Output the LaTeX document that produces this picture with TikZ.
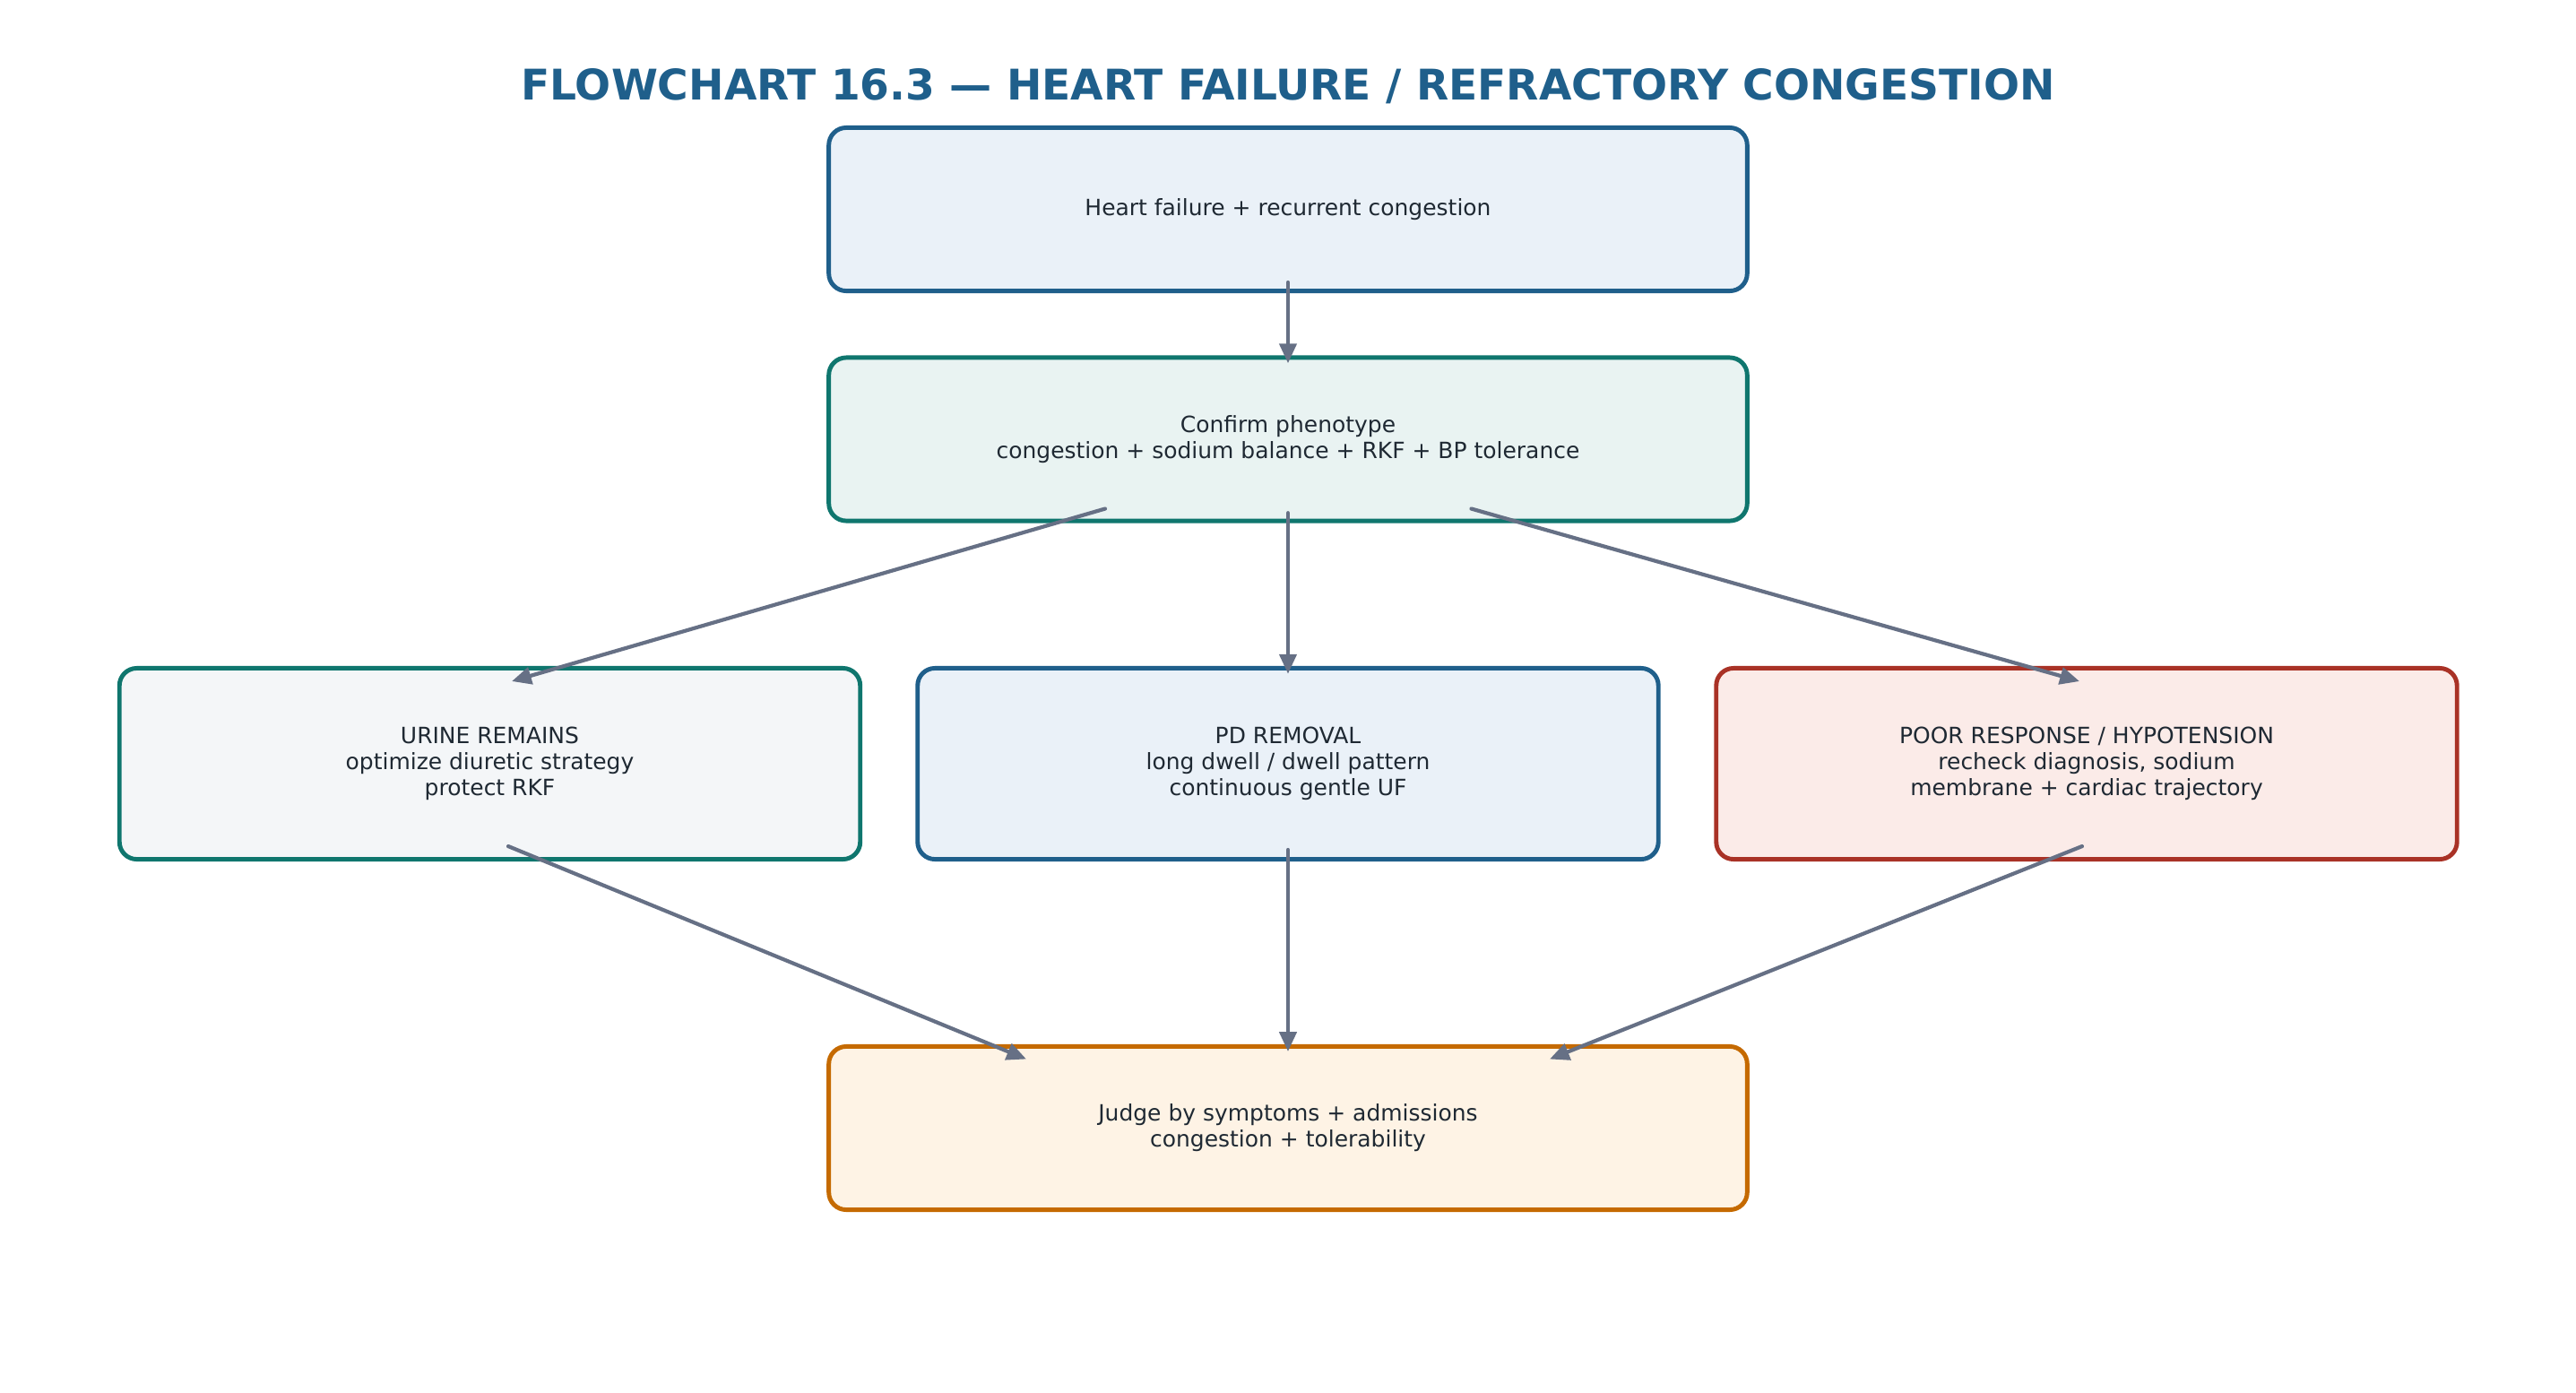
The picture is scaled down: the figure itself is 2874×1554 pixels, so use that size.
\documentclass[tikz,border=0pt]{standalone}
\usepackage{fontspec}
\setmainfont{DejaVu Sans}
\usetikzlibrary{arrows.meta,calc}
\definecolor{hfblue}{HTML}{1F5F8B}
\definecolor{hfteal}{HTML}{0F766E}
\definecolor{hfred}{HTML}{A93226}
\definecolor{hforange}{HTML}{C56A00}
\definecolor{hfgray}{HTML}{667085}
\definecolor{hfink}{HTML}{1F2933}
\definecolor{fillblue}{HTML}{EAF1F8}
\definecolor{fillteal}{HTML}{E9F3F2}
\definecolor{fillgray}{HTML}{F4F6F8}
\definecolor{fillred}{HTML}{FBEBE8}
\definecolor{fillorange}{HTML}{FEF3E5}
\begin{document}
\begin{tikzpicture}[x=0.01cm, y=0.01cm,
    box/.style={draw, line width=1.4pt, rounded corners=5.5pt, align=center, text=hfink,
        font=\fontsize{7.1}{8.2}\selectfont, inner sep=0pt},
    widebox/.style={box, minimum width=10.24cm, minimum height=1.82cm},
    branchbox/.style={box, minimum width=8.26cm, minimum height=2.13cm},
    flow/.style={draw=hfgray, line width=1.2pt, line cap=round, -{Triangle[length=6.2pt, width=5.4pt]}}]
    \useasboundingbox (0,0) rectangle (2874,-1554);

    \node[anchor=base, text=hfblue, font=\fontsize{13.4}{15}\selectfont\bfseries] (title) at (1437,-111)
        {FLOWCHART 16.3 — HEART FAILURE / REFRACTORY CONGESTION};

    \node[widebox, draw=hfblue, fill=fillblue] (hf) at (1437,-233.5) {Heart failure + recurrent congestion};
    \node[widebox, draw=hfteal, fill=fillteal] (pheno) at (1437,-490)
        {Confirm phenotype\\congestion + sodium balance + RKF + BP tolerance};

    \node[branchbox, draw=hfteal, fill=fillgray] (urine) at (546.5,-852)
        {URINE REMAINS\\optimize diuretic strategy\\protect RKF};
    \node[branchbox, draw=hfblue, fill=fillblue] (pd) at (1437,-852)
        {PD REMOVAL\\long dwell / dwell pattern\\continuous gentle UF};
    \node[branchbox, draw=hfred, fill=fillred] (poor) at (2328,-852)
        {POOR RESPONSE / HYPOTENSION\\recheck diagnosis, sodium\\membrane + cardiac trajectory};

    \node[widebox, draw=hforange, fill=fillorange] (judge) at (1437,-1258.5)
        {Judge by symptoms + admissions\\congestion + tolerability};

    \draw[flow] ($(hf.south)+(0,12)$) -- ($(pheno.north)+(0,-8.7)$);
    \draw[flow] ($(pheno.south)+(-204,16)$) -- ($(urine.north)+(24.5,-17)$);
    \draw[flow] ($(pheno.south)+(0,11.3)$) -- ($(pd.north)+(0,-8.7)$);
    \draw[flow] ($(pheno.south)+(204.5,16)$) -- ($(poor.north)+(-8,-17)$);
    \draw[flow] ($(urine.south)+(20.5,17)$) -- ($(judge.north)+(-292,-16.5)$);
    \draw[flow] ($(pd.south)+(0,13)$) -- ($(judge.north)+(0,-8)$);
    \draw[flow] ($(poor.south)+(-5,17)$) -- ($(judge.north)+(292,-16.5)$);
\end{tikzpicture}
\end{document}
